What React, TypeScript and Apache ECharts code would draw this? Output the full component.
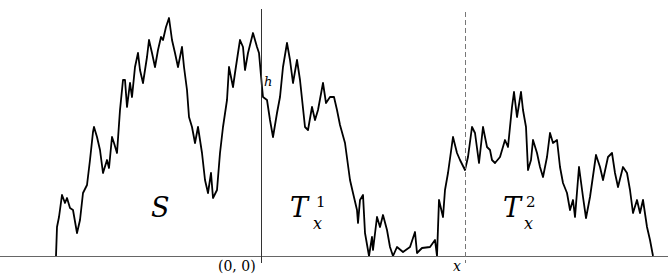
import React, { useEffect, useRef } from "react";
import * as echarts from "echarts";

// time (horizontal position, origin at (0,0)) and height of the path
const times = [
  -205, -204, -202, -199, -196, -194, -191, -188, -184, -181, -178, -174, -171, -168, -167, -164, -161, -158, -154, -152,
  -149, -147, -144, -141, -138, -136, -134, -131, -129, -126, -123, -121, -118, -114, -112, -109, -106, -103, -100, -98,
  -95, -92, -89, -86, -83, -79, -77, -74, -72, -69, -66, -63, -59, -56, -53, -50, -48, -44, -41, -38,
  -34, -32, -28, -26, -23, -21, -18, -16, -13, -8, -4, -2, 1, 2, 6, 9, 12, 16, 19, 22,
  26, 29, 32, 36, 39, 44, 47, 51, 54, 57, 62, 65, 69, 73, 76, 79, 84, 89, 92, 96,
  97, 99, 102, 104, 108, 111, 112, 116, 119, 122, 126, 129, 132, 136, 142, 149, 154, 156, 161, 169,
  174, 176, 178, 182, 184, 187, 192, 196, 199, 204, 207, 211, 214, 218, 222, 226, 229, 231, 234, 239,
  244, 247, 251, 253, 256, 260, 262, 265, 267, 270, 272, 276, 279, 282, 286, 289, 292, 296, 299, 302,
  306, 309, 312, 314, 318, 322, 325, 329, 335, 339, 342, 347, 351, 354, 357, 362, 366, 369, 372, 376,
  379, 382, 386, 389, 392,
];
const heights = [
  0, 29, 39, 61, 53, 58, 48, 46, 23, 36, 63, 71, 96, 124, 129, 119, 106, 83, 96, 88,
  119, 113, 103, 146, 176, 176, 149, 173, 159, 189, 203, 186, 173, 199, 216, 203, 189, 206, 219, 216,
  229, 238, 216, 203, 189, 209, 189, 166, 139, 129, 113, 129, 103, 76, 63, 83, 58, 66, 103, 129,
  156, 189, 169, 183, 203, 216, 209, 186, 203, 223, 209, 203, 169, 159, 156, 136, 119, 143, 159, 189,
  213, 196, 173, 196, 176, 129, 126, 149, 136, 146, 173, 153, 159, 159, 146, 131, 113, 76, 63, 46,
  33, 56, 61, 23, 0, 19, 6, 39, 29, 41, 26, 9, 0, 9, 4, 9, 24, 3, 8, 9,
  16, 0, 56, 39, 66, 83, 119, 103, 96, 86, 99, 129, 123, 93, 129, 109, 106, 96, 93, 99,
  116, 109, 149, 164, 139, 164, 146, 129, 86, 96, 116, 103, 89, 79, 99, 123, 113, 116, 89, 73,
  63, 46, 56, 39, 89, 59, 38, 59, 101, 89, 76, 99, 103, 83, 69, 89, 83, 66, 43, 56,
  43, 56, 29, 16, 0,
];

const originX = 0;
const markX = 204;

export default function App() {
  const ref = useRef<HTMLDivElement>(null);
  useEffect(() => {
    const chart = echarts.init(ref.current!, undefined, { renderer: "svg" });
    const data = times.map((t, i) => [t, heights[i]]);
    const fam = "DejaVu Serif";
    const title = (left: number, top: number, text: string, size: number, italic: boolean) => ({
      text,
      left,
      top,
      padding: 0,
      textStyle: {
        fontFamily: fam,
        fontSize: size,
        fontStyle: italic ? "italic" : "normal",
        fontWeight: "normal",
        color: "#000",
      },
    });
    chart.setOption({
      animation: false,
      textStyle: { fontFamily: fam },
      grid: { left: 0, right: 0, top: 0, bottom: 0 },
      xAxis: { type: "value", min: -261, max: 407, show: false },
      yAxis: { type: "value", min: -21, max: 256, show: false },
      title: [
        title(151, 194, "S", 27, true),
        title(290, 194, "T", 27, true),
        title(316, 194, "1", 15, false),
        title(313, 215, "x", 16, true),
        title(503, 194, "T", 27, true),
        title(526, 194, "2", 15, false),
        title(524, 215, "x", 16, true),
        title(264, 75, "h", 13, true),
        title(218, 259, "(0, 0)", 14, false),
        title(453, 259, "x", 14, true),
      ],
      series: [
        {
          type: "line",
          data,
          symbol: "none",
          lineStyle: { color: "#000", width: 1.8, join: "round" },
          z: 3,
          markLine: {
            silent: true,
            symbol: "none",
            label: { show: false },
            data: [
              [
                { coord: [-261, 0], lineStyle: { color: "#666", width: 1, type: "solid" } },
                { coord: [407, 0] },
              ],
              [
                { coord: [originX, 247], lineStyle: { color: "#333", width: 1, type: "solid" } },
                { coord: [originX, -7] },
              ],
              [
                { coord: [markX, 244], lineStyle: { color: "#777", width: 1, type: [5, 3] } },
                { coord: [markX, -7] },
              ],
            ],
          },
        },
      ],
    });
    return () => chart.dispose();
  }, []);
  return <div ref={ref} style={{ width: 668, height: 277, position: "absolute", left: 0, top: 0 }} />;
}
